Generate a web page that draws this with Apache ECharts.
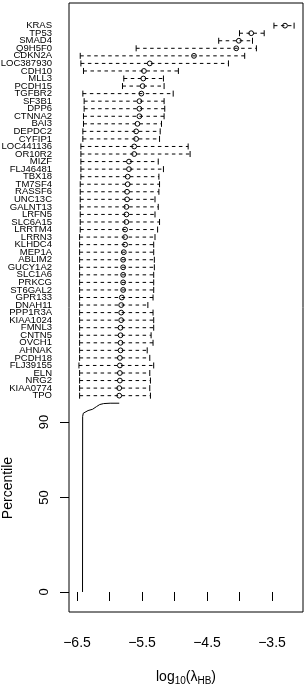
<!DOCTYPE html>
<html><head><meta charset="utf-8">
<script src="https://cdn.jsdelivr.net/npm/echarts@6/dist/echarts.min.js"></script>
<style>html,body{margin:0;padding:0;background:#fff}#c{width:305px;height:687px}</style>
</head><body><div id="c"></div>
<script>
// ---- data ----
const genes = ['KRAS','TP53','SMAD4','Q9H5F0','CDKN2A','LOC387930','CDH10','MLL3','PCDH15','TGFBR2',
  'SF3B1','DPP6','CTNNA2','BAI3','DEPDC2','CYFIP1','LOC441136','OR10R2','MIZF','FLJ46481',
  'TBX18','TM7SF4','RASSF6','UNC13C','GALNT13','LRFN5','SLC6A15','LRRTM4','LRRN3','KLHDC4',
  'MEP1A','ABLIM2','GUCY1A2','SLC1A6','PRKCG','ST6GAL2','GPR133','DNAH11','PPP1R3A','KIAA1024',
  'FMNL3','CNTN5','OVCH1','AHNAK','PCDH18','FLJ39155','ELN','NRG2','KIAA0774','TPO'];
const lower = [-3.47,-4.00,-4.32,-5.59,-6.45,-6.44,-6.40,-5.78,-5.80,-6.41,
  -6.39,-6.39,-6.40,-6.40,-6.41,-6.41,-6.44,-6.44,-6.44,-6.44,
  -6.44,-6.45,-6.45,-6.45,-6.45,-6.45,-6.45,-6.45,-6.46,-6.46,
  -6.46,-6.46,-6.46,-6.46,-6.46,-6.46,-6.46,-6.46,-6.46,-6.46,
  -6.46,-6.46,-6.46,-6.46,-6.46,-6.47,-6.46,-6.46,-6.46,-6.46];
const estimate = [-3.30,-3.82,-4.01,-4.05,-4.70,-5.38,-5.47,-5.48,-5.49,-5.51,
  -5.54,-5.54,-5.54,-5.57,-5.59,-5.59,-5.62,-5.62,-5.70,-5.70,
  -5.72,-5.72,-5.73,-5.73,-5.74,-5.74,-5.74,-5.76,-5.76,-5.76,
  -5.78,-5.79,-5.79,-5.79,-5.79,-5.79,-5.81,-5.82,-5.82,-5.82,
  -5.83,-5.83,-5.83,-5.83,-5.84,-5.84,-5.84,-5.84,-5.85,-5.85];
const upper = [-3.16,-3.62,-3.80,-3.74,-3.92,-4.17,-4.94,-5.17,-5.16,-5.02,
  -5.16,-5.15,-5.16,-5.20,-5.22,-5.23,-4.79,-4.76,-5.25,-5.17,
  -5.24,-5.23,-5.24,-5.30,-5.25,-5.30,-5.23,-5.26,-5.30,-5.32,
  -5.32,-5.31,-5.31,-5.32,-5.32,-5.32,-5.33,-5.41,-5.33,-5.32,
  -5.32,-5.36,-5.33,-5.42,-5.38,-5.32,-5.38,-5.37,-5.38,-5.37];
const pctX = [-6.415,-6.413,-6.403,-6.38,-6.33,-6.26,-6.20,-6.15,-6.09,-5.99,-5.85];
const pctY = [0,93,94.7,95.7,96.1,96.8,98.2,99.3,99.8,100,100];
const xTicks = [-6.5,-6,-5.5,-5,-4.5,-4,-3.5];
const xTickLabels = [-6.5,-5.5,-4.5,-3.5];
const yTickLabels = [0,50,90];

// gene rows sit above the percentile range (100), 4 units apart
const geneRow = genes.map((g,i)=>100 + 4*(genes.length - i));
const rowToGene = {};
geneRow.forEach((v,i)=>{rowToGene[v]=genes[i];});
const rowsEven = geneRow.filter((v,i)=>i%2===0);
const rowsOdd = geneRow.filter((v,i)=>i%2===1);

const FONT = 'Liberation Sans, Arial, Helvetica, sans-serif';
const YMIN=-10.6, YMAX=312;
function geneAxis(rows){
  return {type:'value',min:YMIN,max:YMAX,position:'left',
    axisLine:{show:false},splitLine:{show:false},axisTick:{show:false},
    axisLabel:{customValues:rows,fontSize:9.5,margin:17,color:'#000',fontFamily:FONT,
      showMinLabel:true,showMaxLabel:true,
      formatter:v=>rowToGene[v]||''}};
}
const chart = echarts.init(document.getElementById('c'));
chart.setOption({
  animation:false,
  textStyle:{fontFamily:FONT,color:'#000'},
  grid:{left:69,right:2,top:3,bottom:75,show:true,borderColor:'#000',borderWidth:1,
        backgroundColor:'transparent',containLabel:false,outerBoundsMode:'none'},
  xAxis:{type:'value',min:-6.623,max:-3.023,
    axisLine:{show:false},splitLine:{show:false},
    axisTick:{show:true,inside:false,length:9,customValues:xTicks,lineStyle:{color:'#000'}},
    axisLabel:{customValues:xTickLabels,fontSize:14,margin:24,color:'#000',fontFamily:FONT,
      showMinLabel:true,showMaxLabel:true,
      formatter:v=>String(v).replace('-','\u2212')},
    name:'{a|log}{s|10}{a|(\u03bb}{s|HB}{a|)}',nameLocation:'middle',nameGap:56,
    nameTextStyle:{rich:{
      a:{fontSize:14,fontFamily:FONT,color:'#000',lineHeight:18,verticalAlign:'middle'},
      s:{fontSize:10,fontFamily:FONT,color:'#000',lineHeight:18,verticalAlign:'bottom',padding:[8,0,0,0]}}}
  },
  yAxis:[
    {type:'value',min:YMIN,max:YMAX,position:'left',
      axisLine:{show:false},splitLine:{show:false},
      axisTick:{show:true,inside:false,length:9,customValues:yTickLabels,lineStyle:{color:'#000'}},
      axisLabel:{customValues:yTickLabels,rotate:90,fontSize:13,margin:18,color:'#000',fontFamily:FONT,
        showMinLabel:true,showMaxLabel:true}
    },
    geneAxis(rowsEven),
    geneAxis(rowsOdd)
  ],
  graphic:[{type:'text',x:8,y:488,rotation:Math.PI/2,
    style:{text:'Percentile',fontSize:14,fontFamily:FONT,fill:'#000',align:'center',verticalAlign:'middle'}}],
  series:[
    {type:'custom',xAxisIndex:0,yAxisIndex:0,
      data:genes.map((g,i)=>[lower[i],estimate[i],upper[i],geneRow[i]]),
      renderItem:(params,api)=>{
        const y=api.value(3);
        const pl=api.coord([api.value(0),y]);
        const pm=api.coord([api.value(1),y]);
        const ph=api.coord([api.value(2),y]);
        const h=3;
        return {type:'group',children:[
          {type:'line',shape:{x1:pl[0],y1:pl[1],x2:ph[0],y2:ph[1]},style:{stroke:'#000',lineWidth:1,lineDash:[3.5,3.5]}},
          {type:'line',shape:{x1:pl[0],y1:pl[1]-h,x2:pl[0],y2:pl[1]+h},style:{stroke:'#000',lineWidth:1}},
          {type:'line',shape:{x1:ph[0],y1:ph[1]-h,x2:ph[0],y2:ph[1]+h},style:{stroke:'#000',lineWidth:1}},
          {type:'circle',shape:{cx:pm[0],cy:pm[1],r:2.4},style:{stroke:'#000',fill:'none',lineWidth:1}}
        ]};
      }
    },
    {type:'line',xAxisIndex:0,yAxisIndex:0,showSymbol:false,smooth:false,
      data:pctX.map((x,i)=>[x,pctY[i]]),lineStyle:{color:'#000',width:1}}
  ]
});
</script></body></html>
